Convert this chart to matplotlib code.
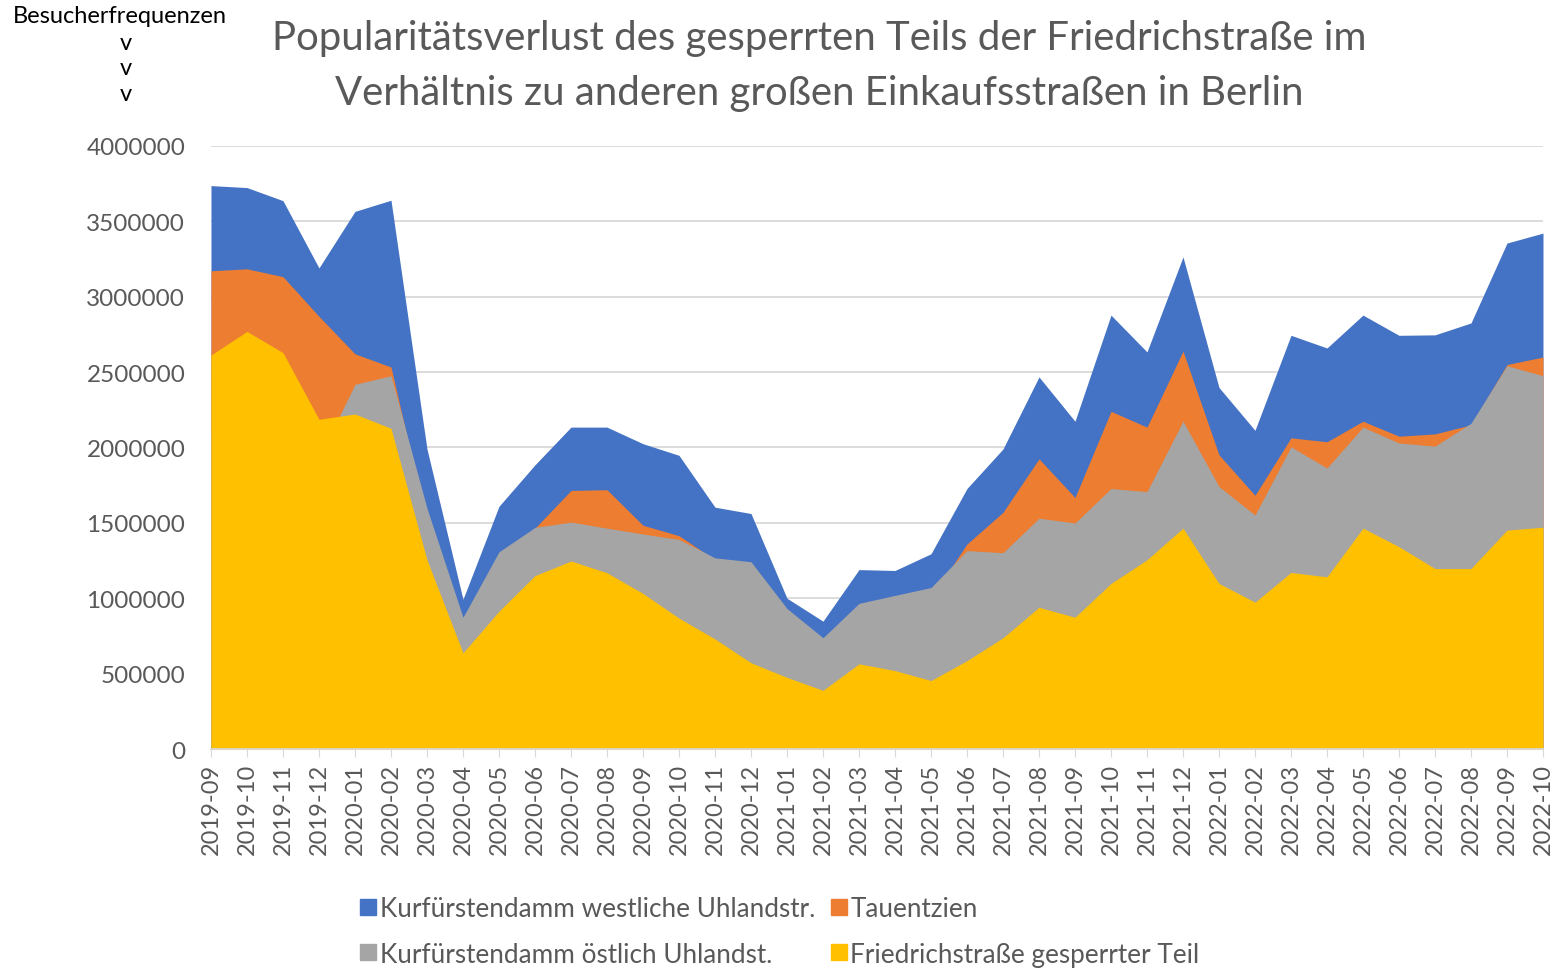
import matplotlib
matplotlib.use('Agg')
import matplotlib.pyplot as plt
from matplotlib.lines import Line2D
import numpy as np

plt.rcParams['font.family'] = ['Lato', 'DejaVu Sans']

months = ['2019-09', '2019-10', '2019-11', '2019-12', '2020-01', '2020-02', '2020-03', '2020-04',
          '2020-05', '2020-06', '2020-07', '2020-08', '2020-09', '2020-10', '2020-11', '2020-12',
          '2021-01', '2021-02', '2021-03', '2021-04', '2021-05', '2021-06', '2021-07', '2021-08',
          '2021-09', '2021-10', '2021-11', '2021-12', '2022-01', '2022-02', '2022-03', '2022-04',
          '2022-05', '2022-06', '2022-07', '2022-08', '2022-09', '2022-10']

# Kurfürstendamm westliche Uhlandstr.
kudamm_west = [3737000, 3724000, 3637000, 3191000, 3566000, 3640000, 1990000, 993000,
               1610000, 1885000, 2135000, 2135000, 2025000, 1948000, 1604000, 1562000,
               1000000, 848000, 1190000, 1184000, 1295000, 1728000, 1990000, 2468000,
               2174000, 2878000, 2634000, 3264000, 2398000, 2114000, 2744000, 2660000,
               2878000, 2744000, 2747000, 2826000, 3356000, 3422000]
# Tauentzien
tauentzien = [3172000, 3185000, 3133000, 2870000, 2621000, 2534000, 1500000, 780000,
              1150000, 1465000, 1715000, 1720000, 1484000, 1415000, 1255000, 1150000,
              850000, 650000, 850000, 900000, 1000000, 1360000, 1570000, 1925000,
              1668000, 2240000, 2135000, 2639000, 1951000, 1683000, 2064000, 2038000,
              2174000, 2075000, 2090000, 2150000, 2550000, 2600000]
# Kurfürstendamm östlich Uhlandst.
kudamm_ost = [2100000, 2250000, 2150000, 1930000, 2419000, 2476000, 1597000, 874000,
              1308000, 1470000, 1505000, 1465000, 1426000, 1390000, 1268000, 1242000,
              932000, 738000, 966000, 1019000, 1071000, 1316000, 1302000, 1531000,
              1499000, 1728000, 1707000, 2174000, 1741000, 1552000, 2004000, 1864000,
              2135000, 2030000, 2009000, 2161000, 2542000, 2476000]
# Friedrichstraße gesperrter Teil
friedrich = [2613000, 2770000, 2629000, 2187000, 2222000, 2127000, 1255000, 638000,
             914000, 1150000, 1247000, 1169000, 1032000, 868000, 730000, 572000,
             475000, 389000, 565000, 520000, 454000, 586000, 738000, 940000,
             874000, 1098000, 1255000, 1465000, 1098000, 974000, 1171000, 1142000,
             1465000, 1342000, 1197000, 1197000, 1452000, 1471000]

series = [
    ('Kurfürstendamm westliche Uhlandstr.', kudamm_west, '#4472C4'),
    ('Tauentzien', tauentzien, '#ED7D31'),
    ('Kurfürstendamm östlich Uhlandst.', kudamm_ost, '#A5A5A5'),
    ('Friedrichstraße gesperrter Teil', friedrich, '#FFC000'),
]

fig = plt.figure(figsize=(15.57, 9.70), dpi=100)
fig.patch.set_facecolor('white')
ax = fig.add_axes([0.1355, 0.2268, 0.8555, 0.6217])

x = np.arange(len(months))
for name, vals, col in series:
    ax.fill_between(x, 0, vals, color=col, linewidth=0, label=name, zorder=2)

ax.set_xlim(0, len(months) - 1)
ax.set_ylim(0, 4000000)
ax.set_yticks(np.arange(0, 4000001, 500000))
ax.set_yticklabels([str(v) for v in range(0, 4000001, 500000)])
ax.grid(axis='y', color='#D9D9D9', linewidth=1.3, zorder=0)
ax.set_axisbelow(True)
ax.set_xticks(x)
ax.set_xticklabels(months, rotation=90)
ax.tick_params(axis='y', length=0, labelsize=17.5, colors='#595959', pad=18.5)
ax.tick_params(axis='x', length=6, color='#D9D9D9', labelsize=17, labelcolor='#595959', pad=4)
for s in ['top', 'right', 'left']:
    ax.spines[s].set_visible(False)
ax.spines['bottom'].set_color('#D9D9D9')
ax.spines['bottom'].set_linewidth(1.3)

fig.text(0.526, 0.960, 'Popularitätsverlust des gesperrten Teils der Friedrichstraße im',
         ha='center', va='center', fontsize=28.9, color='#595959')
fig.text(0.526, 0.904, 'Verhältnis zu anderen großen Einkaufsstraßen in Berlin',
         ha='center', va='center', fontsize=28.9, color='#595959')

fig.text(0.077, 0.983, 'Besucherfrequenzen', ha='center', va='center', fontsize=17, color='black')
for yy in [0.955, 0.929, 0.903]:
    fig.text(0.081, yy, 'v', ha='center', va='center', fontsize=17, color='black')

handles = [Line2D([], [], marker='s', linestyle='none', markersize=11, color=c) for _, _, c in series]
labels = [n for n, _, _ in series]
order = [0, 2, 1, 3]
fig.legend([handles[i] for i in order], [labels[i] for i in order], ncol=2,
           loc='center', bbox_to_anchor=(0.5, 0.039), frameon=False, fontsize=18.8,
           labelcolor='#595959', handletextpad=0.05, columnspacing=0.5, labelspacing=0.8,
           handlelength=0.8)

plt.savefig('out.png', dpi=100, facecolor='white')
